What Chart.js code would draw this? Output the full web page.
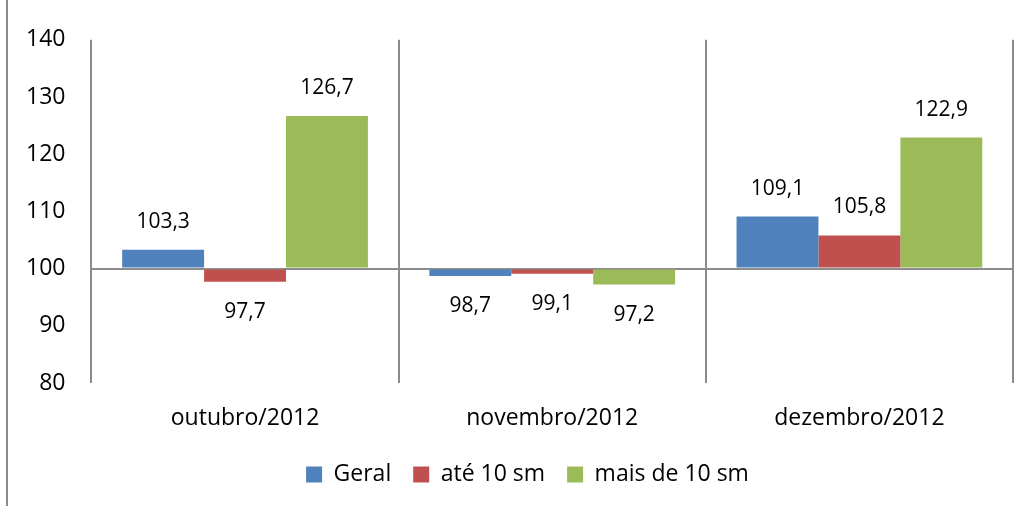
<!DOCTYPE html>
<html>
<head>
<meta charset="utf-8">
<script src="https://cdn.jsdelivr.net/npm/chart.js@4/dist/chart.umd.min.js"></script>
<style>
  body { margin: 0; background: #fff; }
  #wrap { width: 1029px; height: 506px; }
</style>
</head>
<body>
<div id="wrap"><canvas id="chart" width="1029" height="506"></canvas></div>
<script>
// dados
const months = ["outubro/2012", "novembro/2012", "dezembro/2012"];
const geral = [103.3, 98.7, 109.1];
const ate10 = [97.7, 99.1, 105.8];
const mais10 = [126.7, 97.2, 122.9];
const seriesNames = ["Geral", "até 10 sm", "mais de 10 sm"];
const yTicks = [80, 90, 100, 110, 120, 130, 140];

const colors = ["#4F81BD", "#C0504D", "#9BBB59"];
const gridGray = "#8C8C8C";
const FONT = "'Open Sans', sans-serif";

// rótulos de valor acima/abaixo das barras
const valueLabels = {
    id: "valueLabels",
    afterDatasetsDraw(chart) {
        const ctx = chart.ctx;
        ctx.save();
        ctx.font = "21px " + FONT;
        ctx.fillStyle = "#000";
        ctx.textAlign = "center";
        ctx.textBaseline = "middle";
        chart.data.datasets.forEach((ds, i) => {
            chart.getDatasetMeta(i).data.forEach((bar, j) => {
                const v = ds.data[j];
                const txt = v.toFixed(1).replace(".", ",");
                const y = v >= 100 ? bar.y - 28 : bar.y + 30;
                ctx.fillText(txt, bar.x, y);
            });
        });
        ctx.restore();
    }
};

// linha vertical da moldura à esquerda
const frameLine = {
    id: "frameLine",
    afterLayout(chart) {
        // legenda centrada sob a área do gráfico, não no canvas todo
        if (chart.legend) {
            chart.legend.left += 21;
            chart.legend.right += 21;
        }
    },
    afterDraw(chart) {
        const ctx = chart.ctx;
        ctx.save();
        ctx.strokeStyle = gridGray;
        ctx.lineWidth = 2;
        ctx.beginPath();
        ctx.moveTo(7, 0);
        ctx.lineTo(7, chart.height);
        ctx.stroke();
        ctx.restore();
    }
};

const datasets = [geral, ate10, mais10].map((d, i) => ({
    label: seriesNames[i],
    data: d,
    base: 100,
    backgroundColor: colors[i],
    borderWidth: 0,
    barPercentage: 1,
    categoryPercentage: 0.8
}));

new Chart(document.querySelector("#chart"), {
    type: "bar",
    data: { labels: months, datasets: datasets },
    plugins: [valueLabels, frameLine],
    options: {
        responsive: false,
        animation: false,
        layout: { padding: { top: 31, right: 16, left: 0, bottom: 10 } },
        plugins: {
            tooltip: { enabled: false },
            legend: {
                position: "bottom",
                labels: {
                    boxWidth: 16,
                    boxHeight: 16,
                    padding: 22,
                    color: "#000",
                    font: { family: FONT, size: 23 }
                }
            }
        },
        scales: {
            x: {
                border: { display: false },
                grid: {
                    offset: true,
                    color: gridGray,
                    lineWidth: 2,
                    drawTicks: false
                },
                ticks: {
                    padding: 22,
                    color: "#000",
                    font: { family: FONT, size: 23 }
                },
                afterFit(axis) {
                    axis.height = 58;
                }
            },
            y: {
                min: 80,
                max: 140,
                afterBuildTicks(axis) {
                    axis.ticks = yTicks.map(v => ({ value: v }));
                },
                border: { display: false },
                grid: {
                    drawTicks: false,
                    lineWidth: 2,
                    color: c => (c.tick && c.tick.value === 100 ? gridGray : "rgba(0,0,0,0)")
                },
                ticks: {
                    padding: 26,
                    color: "#000",
                    font: { family: FONT, size: 23 }
                }
            }
        }
    }
});
</script>
</body>
</html>
